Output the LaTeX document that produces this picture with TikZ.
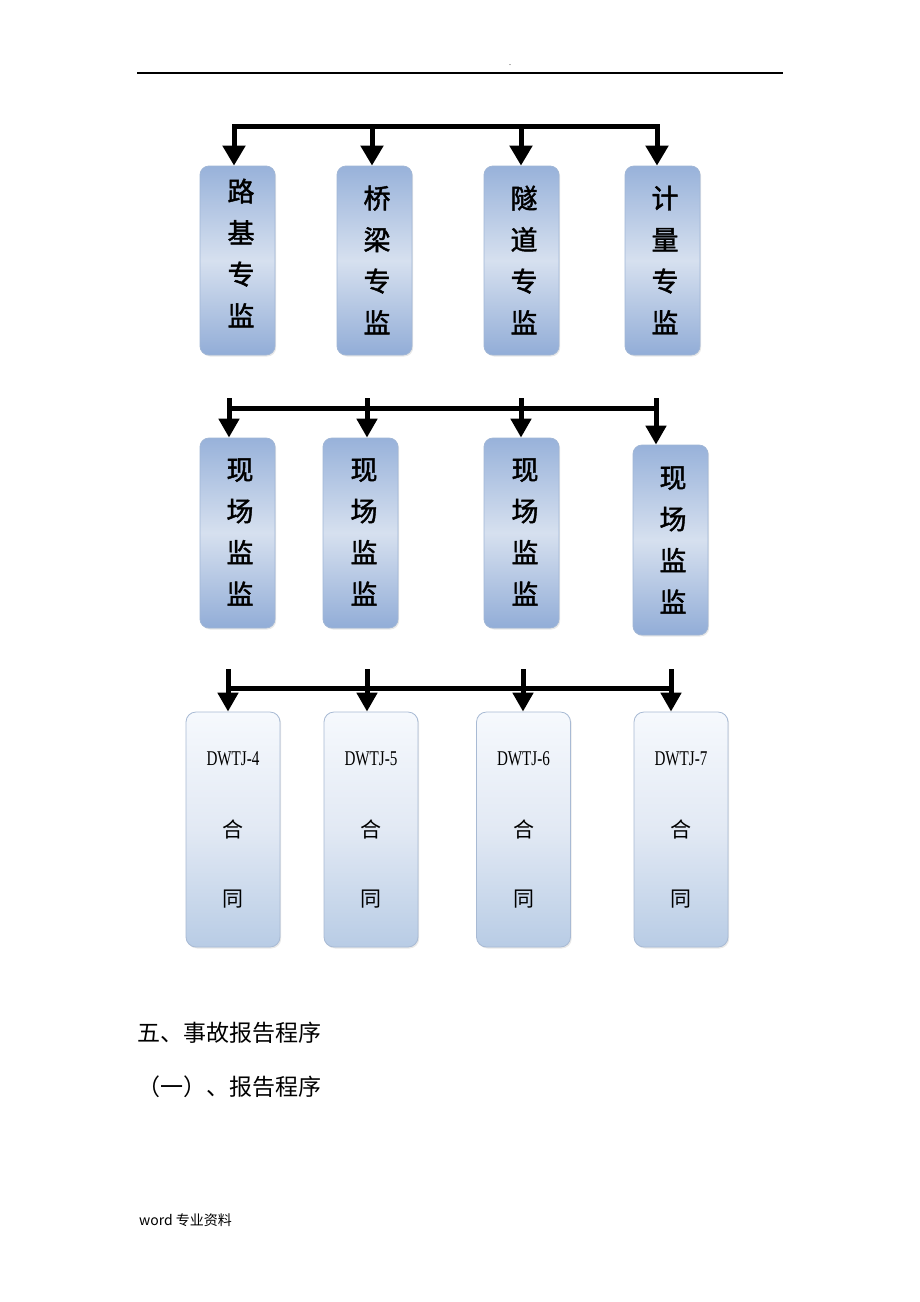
\documentclass[tikz,border=0pt]{standalone}
\usepackage{fontspec}
\setmainfont{Liberation Serif}
\newfontfamily\cjk{Noto Sans CJK SC}
\newfontfamily\cjkm[FakeBold=1.6]{Noto Sans CJK SC}
\usetikzlibrary{arrows.meta,shadows}
\definecolor{boxtop}{RGB}{152,178,218}
\definecolor{boxlight}{RGB}{214,224,239}
\definecolor{boxbot}{RGB}{146,173,215}
\definecolor{boxedge}{RGB}{160,182,214}
\definecolor{lowtop}{RGB}{246,249,253}
\definecolor{lowmid}{RGB}{226,233,244}
\definecolor{lowbot}{RGB}{184,204,229}
\definecolor{lowedge}{RGB}{168,186,212}
\tikzset{
  bluebox/.style={draw=boxedge, line width=0.8pt, rounded corners=9pt,
    minimum width=75pt, minimum height=189pt, inner sep=0pt,
    top color=boxtop, bottom color=boxbot, middle color=boxlight,
    drop shadow={opacity=0.18, shadow xshift=1.2pt, shadow yshift=-1.5pt}},
  lowbox/.style={draw=lowedge, line width=0.8pt, rounded corners=10pt,
    minimum width=94pt, minimum height=235pt, inner sep=0pt,
    top color=lowtop, bottom color=lowbot, middle color=lowmid,
    drop shadow={opacity=0.18, shadow xshift=1.2pt, shadow yshift=-1.5pt}},
  vtext/.style={align=center, inner sep=0pt, font=\cjkm\fontsize{27}{41.5}\selectfont},
  ltext/.style={align=center, inner sep=0pt},
  bar/.style={line width=5pt, line cap=rect},
  arr/.style={line width=5pt, -{Triangle[width=22pt,length=20pt]}},
  arrs/.style={line width=5pt, -{Triangle[width=20pt,length=19pt]}},
}
\begin{document}
\begin{tikzpicture}[x=1pt,y=-1pt]
\useasboundingbox[fill=white] (0,0) rectangle (920,1302);

% header
\coordinate (hl) at (137,73);
\coordinate (hr) at (783,73);
\draw[line width=1.1pt] (hl) -- (hr);
\node[font=\fontsize{8}{8}\selectfont, inner sep=0pt] (dot) at (510,65) {.};

% ---------- row 1 ----------
\node[bluebox] (a1) at (237.5,260.5) {};
\node[bluebox] (a2) at (374.5,260.5) {};
\node[bluebox] (a3) at (521.5,260.5) {};
\node[bluebox] (a4) at (662.5,260.5) {};
\node[vtext] (a1t) at (241,253) {路\\基\\专\\监};
\node[vtext] (a2t) at (377,260) {桥\\梁\\专\\监};
\node[vtext] (a3t) at (524,260) {隧\\道\\专\\监};
\node[vtext] (a4t) at (665,260) {计\\量\\专\\监};

\coordinate (c1) at (234,126);
\coordinate (c2) at (372,126);
\coordinate (c3) at (521,126);
\coordinate (c4) at (657,126);
\draw[bar] (c1) -- (c4);
\draw[arr] (c1) -- (c1 |- a1.north);
\draw[arr] (c2) -- (c2 |- a2.north);
\draw[arr] (c3) -- (c3 |- a3.north);
\draw[arr] (c4) -- (c4 |- a4.north);

% ---------- row 2 ----------
\node[bluebox, minimum height=190pt] (b1) at (237.5,533) {};
\node[bluebox, minimum height=190pt] (b2) at (360.5,533) {};
\node[bluebox, minimum height=190pt] (b3) at (521.5,533) {};
\node[bluebox, minimum height=190pt] (b4) at (670.5,540) {};
\node[vtext] (b1t) at (240,532) {现\\场\\监\\监};
\node[vtext] (b2t) at (364,532) {现\\场\\监\\监};
\node[vtext] (b3t) at (525,532) {现\\场\\监\\监};
\node[vtext] (b4t) at (673,540) {现\\场\\监\\监};

\coordinate (d1) at (229,408);
\coordinate (d4) at (656,408);
\coordinate (s1) at (229,398);
\coordinate (s2) at (367,398);
\coordinate (s3) at (521,398);
\coordinate (s4) at (656,398);
\draw[bar] (d1) -- (d4);
\draw[arrs] (s1) -- (s1 |- b1.north);
\draw[arrs] (s2) -- (s2 |- b2.north);
\draw[arrs] (s3) -- (s3 |- b3.north);
\draw[arrs] (s4) -- (s4 |- b4.north);

% ---------- row 3 ----------
\node[lowbox] (e1) at (233,829.5) {};
\node[lowbox] (e2) at (371,829.5) {};
\node[lowbox] (e3) at (523.5,829.5) {};
\node[lowbox] (e4) at (681,829.5) {};
\foreach \n/\k in {1/4,2/5,3/6,4/7}{
  \node[ltext, font=\fontsize{21}{21}\selectfont] (e\n l) at ([yshift=71pt]e\n.center) {\scalebox{0.72}[1]{DWTJ-\k}};
  \node[ltext, font=\cjk\fontsize{21}{21}\selectfont] (e\n h) at (e\n.center) {合};
  \node[ltext, font=\cjk\fontsize{21}{21}\selectfont] (e\n g) at ([yshift=-70pt]e\n.center) {同};
}

\coordinate (f1) at (228,688);
\coordinate (f4) at (671,688);
\coordinate (t1) at (228,669);
\coordinate (t2) at (367,669);
\coordinate (t3) at (523,669);
\coordinate (t4) at (671,669);
\draw[bar] (f1) -- (f4);
\draw[arrs] (t1) -- (t1 |- e1.north);
\draw[arrs] (t2) -- (t2 |- e2.north);
\draw[arrs] (t3) -- (t3 |- e3.north);
\draw[arrs] (t4) -- (t4 |- e4.north);

% ---------- text below ----------
\node[anchor=west, inner sep=0pt, font=\cjk\fontsize{23}{23}\selectfont] (h1) at (137,1033) {五、事故报告程序};
\node[anchor=west, inner sep=0pt, font=\cjk\fontsize{23}{23}\selectfont] (h2) at (137,1087) {（一）、报告程序};
\node[anchor=west, inner sep=0pt, font=\cjk\fontsize{14}{14}\selectfont] (foot) at (139,1220) {word 专业资料};
\end{tikzpicture}
\end{document}
